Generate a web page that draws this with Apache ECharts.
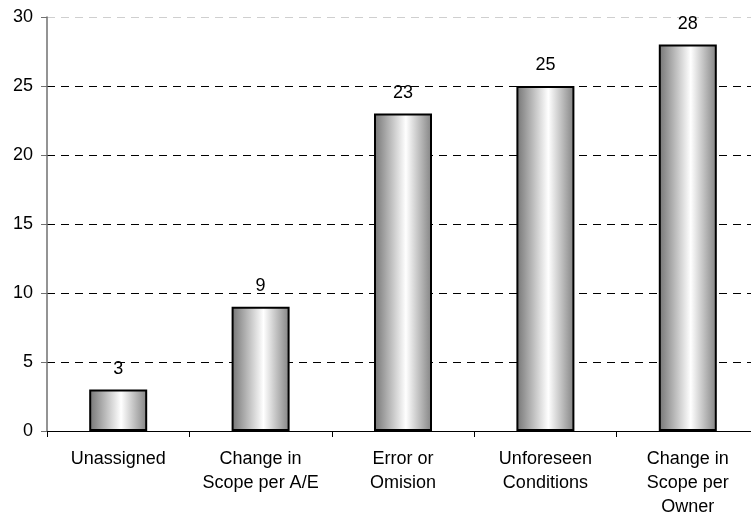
<!DOCTYPE html>
<html>
<head>
<meta charset="utf-8">
<script src="https://cdn.jsdelivr.net/npm/echarts@6/dist/echarts.min.js"></script>
<style>
  html, body { margin: 0; padding: 0; background: #fff; }
  #chart { width: 751px; height: 516px; }
</style>
</head>
<body>
<div id="chart"></div>
<script>
// Cause categories (line breaks as drawn under the axis)
const categories = [
  'Unassigned',
  'Change in\nScope per A/E',
  'Error or\nOmision',
  'Unforeseen\nConditions',
  'Change in\nScope per\nOwner'
];
// Count per category
const counts = [3, 9, 23, 25, 28];
// Value axis range
const yMin = 0;
const yMax = 30;
const yStep = 5;

const chart = echarts.init(document.getElementById('chart'), null, { renderer: 'canvas' });

// Cylinder-like shading across each bar
const barFill = new echarts.graphic.LinearGradient(0, 0, 1, 0, [
  { offset: 0, color: '#747474' },
  { offset: 0.55, color: '#ffffff' },
  { offset: 1, color: '#828282' }
]);

const textFont = 'Liberation Sans, Arial, sans-serif';

chart.setOption({
  animation: false,
  backgroundColor: '#ffffff',
  grid: {
    left: 47, right: -8, top: 17, bottom: 85,
    containLabel: false,
    outerBoundsMode: 'none'
  },
  xAxis: {
    type: 'category',
    data: categories,
    boundaryGap: true,
    axisLine: { show: true, lineStyle: { color: '#000', width: 1 } },
    axisTick: { show: true, alignWithLabel: false, length: 6, lineStyle: { color: '#000' } },
    axisLabel: {
      interval: 0,
      color: '#000',
      fontFamily: textFont,
      fontSize: 18,
      lineHeight: 24,
      margin: 16,
      hideOverlap: false
    }
  },
  yAxis: {
    type: 'value',
    min: yMin,
    max: yMax,
    interval: yStep,
    axisLine: { show: true, lineStyle: { color: '#707070', width: 1.5 } },
    axisTick: { show: true, length: 6, lineStyle: { color: '#707070' } },
    axisLabel: {
      color: '#000',
      fontFamily: textFont,
      fontSize: 18,
      margin: 14
    },
    splitLine: {
      show: true,
      lineStyle: {
        color: ['#000', '#000', '#000', '#000', '#000', '#000', '#cfcfcf'],
        type: [8, 6],
        width: 1
      }
    }
  },
  series: [{
    type: 'bar',
    data: counts,
    barWidth: 58,
    itemStyle: {
      color: barFill,
      borderColor: '#000',
      borderWidth: 2
    },
    label: {
      show: true,
      position: 'top',
      distance: 12,
      color: '#000',
      fontFamily: textFont,
      fontSize: 18
    }
  }]
});
</script>
</body>
</html>
